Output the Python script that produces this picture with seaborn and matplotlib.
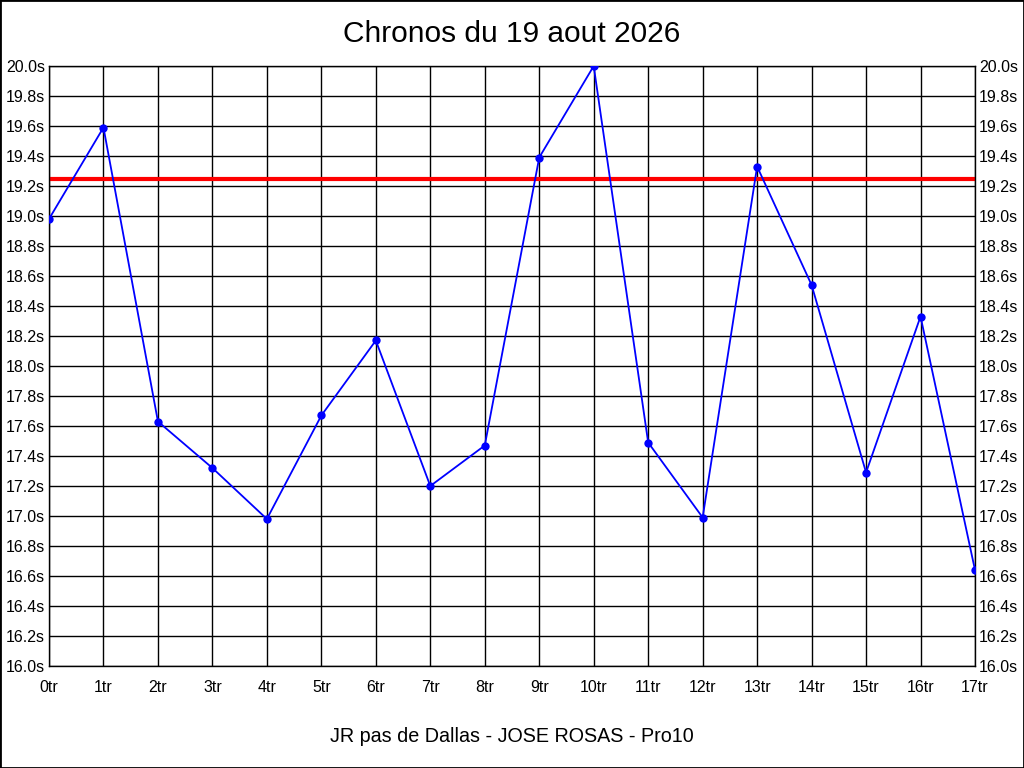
import matplotlib
matplotlib.use("Agg")
import matplotlib.pyplot as plt
import seaborn as sns
import pandas as pd
from matplotlib.patches import Rectangle

# lap times (seconds) per lap
laps = list(range(18))
times = [18.98, 19.59, 17.63, 17.32, 16.98, 17.67, 18.17, 17.20, 17.47,
         19.39, 20.00, 17.49, 16.99, 19.33, 18.54, 17.29, 18.33, 16.64]
target = 19.25
lap_labels = [f"{i}tr" for i in laps]
y_ticks = [16.0 + 0.2 * i for i in range(21)]

df = pd.DataFrame({"lap": laps, "time": times})

sns.set_style("white")
plt.rcParams["font.family"] = ["Liberation Sans", "DejaVu Sans"]
plt.rcParams["text.color"] = "black"

fig = plt.figure(figsize=(10.24, 7.68), dpi=100)
ax = fig.add_axes([49 / 1024, 1 - 666 / 768, (975 - 49) / 1024, 600 / 768])

ax.axhline(target, color="#ff0000", lw=3, zorder=2)
sns.lineplot(data=df, x="lap", y="time", ax=ax, color="#0000ff", lw=1.3,
             marker="o", markersize=6, markeredgewidth=0, zorder=3)

ax.set_xlim(0, 17)
ax.set_ylim(16.0, 20.0)
ax.set_xticks(laps)
ax.set_xticklabels(lap_labels)
ax.set_yticks(y_ticks)
ax.set_yticklabels([f"{v:.1f}s" for v in y_ticks])
ax.grid(True, color="black", lw=1)
ax.tick_params(length=0, labelsize=11.5, colors="black")
ax.tick_params(axis="x", pad=10)
ax.tick_params(axis="y", pad=3, labelright=True, right=False)
for s in ax.spines.values():
    s.set_color("black")
    s.set_linewidth(1)
ax.set_xlabel("")
ax.set_ylabel("")

fig.text(0.5, 1 - 34 / 768, "Chronos du 19 aout 2026", ha="center", va="center",
         fontsize=21.5, color="black")
fig.text(0.5, 1 - 736 / 768, "JR pas de Dallas - JOSE ROSAS - Pro10", ha="center", va="center",
         fontsize=14.2, color="black")

fig.patches.append(Rectangle((0, 0), 1, 1, transform=fig.transFigure, fill=False,
                             edgecolor="black", lw=2))

fig.savefig("out.png", dpi=100)
